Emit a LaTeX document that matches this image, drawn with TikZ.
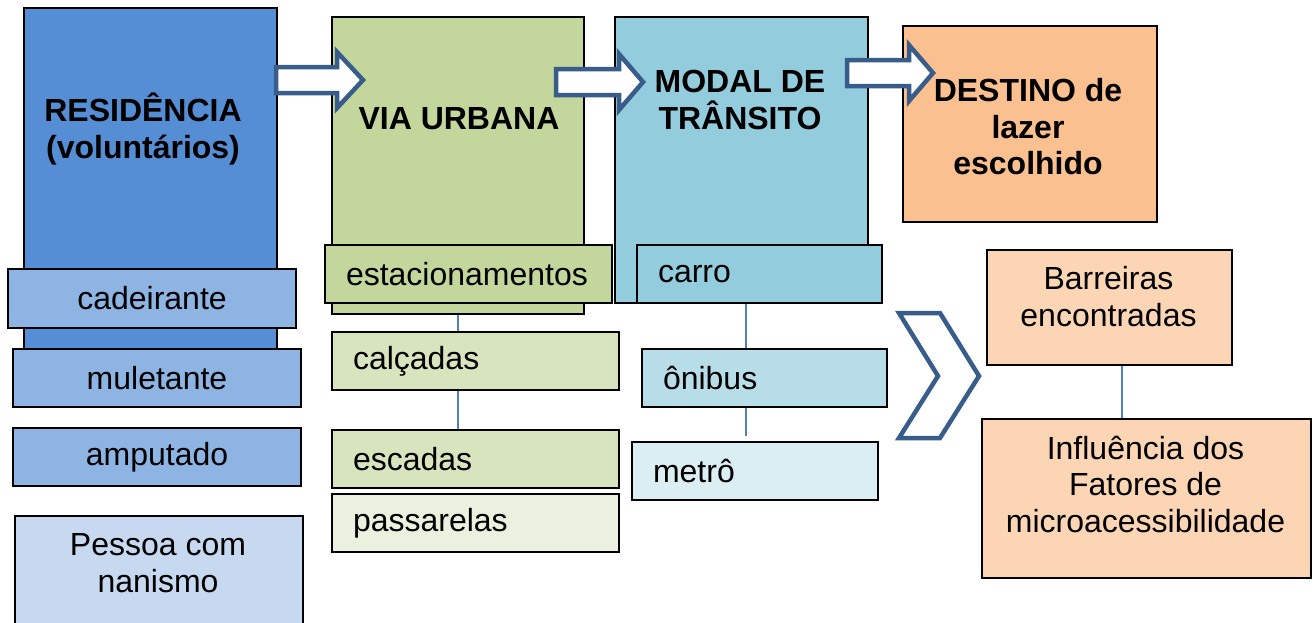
\documentclass[tikz,border=0pt]{standalone}
\usepackage{fontspec}
\setmainfont{Liberation Sans}
\definecolor{resblue}{HTML}{558ED5}
\definecolor{midblue}{HTML}{8EB4E3}
\definecolor{paleblue}{HTML}{C6D9F1}
\definecolor{green1}{HTML}{C3D69B}
\definecolor{green2}{HTML}{D7E4BD}
\definecolor{green3}{HTML}{EBF1DE}
\definecolor{aqua1}{HTML}{93CDDD}
\definecolor{aqua2}{HTML}{B7DEE8}
\definecolor{aqua3}{HTML}{DBEEF4}
\definecolor{orange1}{HTML}{FAC090}
\definecolor{orange2}{HTML}{FCD5B5}
\definecolor{arrowblue}{HTML}{385D8A}
\definecolor{linkblue}{HTML}{4F81BD}
\begin{document}
\begin{tikzpicture}[x=1pt,y=-1pt,
	box/.style={draw=black,line width=2pt,anchor=north west,inner sep=0pt,
		font=\fontsize{32}{36.5}\selectfont},
	item/.style={box,align=left,inner xsep=21pt,minimum height=58pt},
	txt/.style={inner sep=0pt,align=center,font=\fontsize{32}{36.5}\selectfont},
	head/.style={txt,font=\fontsize{32}{36.5}\selectfont\bfseries},
	bigarrow/.style={draw=arrowblue,line width=4.5pt,fill=white,line join=miter},
	link/.style={draw=linkblue,line width=2pt}]
	\useasboundingbox (0,0) rectangle (1314,622);
	% residencia
	\node[box,fill=resblue,minimum width=253pt,minimum height=343pt] (res) at (23,7) {};
	\node[box,fill=midblue,minimum width=288pt,minimum height=59pt] (cad) at (7,268) {cadeirante};
	\node[box,fill=midblue,minimum width=288pt,minimum height=58pt] (mul) at (12,348) {muletante};
	\node[box,fill=midblue,minimum width=288pt,minimum height=58pt] (amp) at (12,427) {amputado};
	\node[box,fill=paleblue,minimum width=288pt,minimum height=130pt] (nan) at (14,515) {};
	\node[txt] (nan-t) at (158,563) {Pessoa com\\nanismo};
	\node[head] (res-t) at (143,129) {RESIDÊNCIA\\(voluntários)};
	% via urbana
	\node[box,fill=green1,minimum width=252pt,minimum height=297pt] (via) at (331,16) {};
	\node[head] (via-t) at (459,118.5) {VIA URBANA};
	\node[item,fill=green1,text width=245pt] (est) at (324,244) {estacionamentos};
	\node[item,fill=green2,text width=245pt] (calc) at (331,331) {calçadas};
	\node[item,fill=green2,text width=245pt] (esc) at (331,429) {escadas};
	\node[item,fill=green3,text width=245pt] (pas) at (331,493) {passarelas};
	% modal
	\node[box,fill=aqua1,minimum width=253pt,minimum height=286pt] (modal) at (614,16) {};
	\node[head] (modal-t) at (740,100) {MODAL DE\\TRÂNSITO};
	\node[item,fill=aqua1,text width=203pt] (carro) at (636,244) {carro};
	\node[item,fill=aqua2,text width=203pt] (oni) at (641,348) {ônibus};
	\node[item,fill=aqua3,text width=204pt] (met) at (631,441) {metrô};
	% destino
	\node[box,fill=orange1,minimum width=254pt,minimum height=196pt] (dest) at (902,25) {};
	\node[head] (dest-t) at (1028,127) {DESTINO de\\lazer\\escolhido};
	\node[box,fill=orange2,minimum width=245pt,minimum height=115pt] (barr) at (986,249) {};
	\node[txt] (barr-t) at (1108.5,296.5) {Barreiras\\encontradas};
	\node[box,fill=orange2,minimum width=329pt,minimum height=159pt] (infl) at (981,418) {};
	\node[txt] (infl-t) at (1145.5,484) {Influência dos\\Fatores de\\microacessibilidade};
	% ligacoes
	\draw[link] (via.south) -- (via.south |- calc.north);
	\draw[link] (via.south |- calc.south) -- (via.south |- esc.north);
	\draw[link] ([xshift=4pt]modal.south) -- ([xshift=4pt]modal.south |- oni.north);
	\draw[link,shorten >=5pt] ([xshift=4pt]modal.south |- oni.south) -- ([xshift=4pt]modal.south |- met.north);
	\draw[link] ([xshift=12pt]barr.south) -- ([xshift=12pt]barr.south |- infl.north);
	% setas
	\foreach \a/\b/\c/\m in {276/337/363/80, 556/619/643/82, 847/909/933/73}
		\draw[bigarrow] (\a,\m-13) -- (\b,\m-13) -- (\b,\m-28) -- (\c,\m) -- (\b,\m+28) -- (\b,\m+13) -- (\a,\m+13) -- cycle;
	\draw[bigarrow] (899,313) -- (940,313) -- (979,376) -- (940,438) -- (899,438) -- (938,376) -- cycle;
\end{tikzpicture}
\end{document}
